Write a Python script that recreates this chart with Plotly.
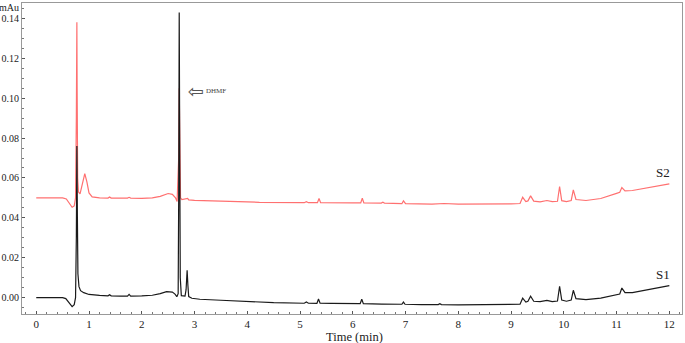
import plotly.graph_objects as go

# S1 (black) chromatogram: time (min), absorbance (mAu)
s1_time = [0.00, 0.50, 0.56, 0.62, 0.68, 0.72, 0.745, 0.76, 0.77, 0.78, 0.79, 0.81, 0.84, 0.90, 1.00,
           1.20, 1.36, 1.39, 1.42, 1.60, 1.73, 1.76, 1.79, 2.00, 2.20, 2.35, 2.47, 2.58, 2.63, 2.665,
           2.69, 2.70, 2.71, 2.72, 2.73, 2.75, 2.82, 2.84, 2.86, 2.875, 2.89, 2.95, 3.10, 3.50, 4.00,
           4.50, 5.08, 5.12, 5.16, 5.32, 5.35, 5.38, 5.60, 6.14, 6.17, 6.20, 6.55, 6.93, 6.96, 6.99,
           7.30, 7.62, 7.65, 7.68, 8.00, 8.60, 9.00, 9.17, 9.22, 9.28, 9.32, 9.37, 9.43, 9.55, 9.68,
           9.78, 9.88, 9.92, 9.96, 10.05, 10.14, 10.18, 10.23, 10.42, 10.70, 11.00, 11.06, 11.10, 11.16,
           11.30, 11.60, 12.00]
s1_value = [0.0000, 0.0000, -0.0005, -0.0025, -0.0045, -0.0035, 0.0000, 0.0300, 0.0760, 0.0400, 0.0120,
            0.0055, 0.0035, 0.0025, 0.0016, 0.0011, 0.0009, 0.0015, 0.0009, 0.0008, 0.0008, 0.0016,
            0.0008, 0.0009, 0.0012, 0.0020, 0.0030, 0.0028, 0.0018, 0.0005, 0.0020, 0.0500, 0.1430,
            0.0700, 0.0100, 0.0010, 0.0008, 0.0040, 0.0137, 0.0060, 0.0005, -0.0003, -0.0008, -0.0013,
            -0.0020, -0.0025, -0.0028, -0.0022, -0.0028, -0.0029, -0.0007, -0.0028, -0.0029, -0.0030,
            -0.0008, -0.0030, -0.0032, -0.0033, -0.0022, -0.0033, -0.0035, -0.0035, -0.0030, -0.0035,
            -0.0036, -0.0036, -0.0034, -0.0033, -0.0003, -0.0022, -0.0018, 0.0007, -0.0018, -0.0020,
            -0.0014, -0.0020, -0.0017, 0.0057, -0.0012, -0.0018, -0.0012, 0.0037, -0.0005, -0.0010,
            -0.0002, 0.0012, 0.0018, 0.0048, 0.0025, 0.0025, 0.0040, 0.0060]

# S2 (red) chromatogram
s2_time = [0.00, 0.50, 0.57, 0.63, 0.68, 0.72, 0.745, 0.76, 0.77, 0.775, 0.785, 0.80, 0.83, 0.87, 0.92,
           0.96, 1.00, 1.06, 1.20, 1.36, 1.39, 1.42, 1.73, 1.76, 1.79, 2.00, 2.20, 2.35, 2.50, 2.58,
           2.64, 2.67, 2.70, 2.71, 2.72, 2.735, 2.76, 2.85, 2.87, 2.89, 3.00, 3.50, 4.23, 5.08, 5.12,
           5.16, 5.33, 5.36, 5.39, 6.00, 6.15, 6.18, 6.21, 6.54, 6.57, 6.60, 6.93, 6.96, 7.00, 7.50,
           7.62, 7.73, 8.00, 8.60, 9.00, 9.17, 9.22, 9.28, 9.32, 9.37, 9.43, 9.55, 9.68, 9.78, 9.88,
           9.92, 9.96, 10.05, 10.14, 10.18, 10.23, 10.42, 10.70, 11.00, 11.06, 11.10, 11.16, 11.30,
           11.60, 12.00]
s2_value = [0.0500, 0.0500, 0.0495, 0.0470, 0.0453, 0.0460, 0.0500, 0.0900, 0.1380, 0.1050, 0.0600,
            0.0530, 0.0520, 0.0560, 0.0622, 0.0580, 0.0525, 0.0505, 0.0500, 0.0499, 0.0505, 0.0499,
            0.0499, 0.0503, 0.0499, 0.0498, 0.0500, 0.0508, 0.0522, 0.0518, 0.0500, 0.0482, 0.0700,
            0.1050, 0.0650, 0.0500, 0.0492, 0.0494, 0.0497, 0.0490, 0.0488, 0.0484, 0.0478, 0.0476,
            0.0481, 0.0476, 0.0476, 0.0497, 0.0476, 0.0475, 0.0475, 0.0498, 0.0475, 0.0474, 0.0478,
            0.0474, 0.0471, 0.0485, 0.0471, 0.0469, 0.0472, 0.0472, 0.0469, 0.0468, 0.0470, 0.0472,
            0.0503, 0.0482, 0.0485, 0.0510, 0.0484, 0.0480, 0.0487, 0.0481, 0.0483, 0.0557, 0.0486,
            0.0481, 0.0487, 0.0540, 0.0492, 0.0487, 0.0497, 0.0523, 0.0528, 0.0552, 0.0535, 0.0537,
            0.0550, 0.0570]

x_ticks = list(range(0, 13))
y_ticks = [0.00, 0.02, 0.04, 0.06, 0.08, 0.10, 0.12, 0.14]
y_tick_labels = ["0.00", "0.02", "0.04", "0.06", "0.08", "0.10", "0.12", "0.14"]

FONT = "Liberation Serif, Times New Roman, serif"

fig = go.Figure()
fig.add_trace(go.Scatter(x=s2_time, y=s2_value, mode="lines", name="S2",
                         line=dict(color="#ff7070", width=1.2), showlegend=False))
fig.add_trace(go.Scatter(x=s1_time, y=s1_value, mode="lines", name="S1",
                         line=dict(color="#1a1a1a", width=1.2), showlegend=False))

fig.add_annotation(x=11.88, y=0.0627, text="S2", showarrow=False,
                   font=dict(family=FONT, size=13, color="#222"))
fig.add_annotation(x=11.88, y=0.0115, text="S1", showarrow=False,
                   font=dict(family=FONT, size=13, color="#222"))
fig.add_annotation(x=2.84, y=0.1035, xanchor="left", yanchor="middle",
                   text="\u21e6", showarrow=False,
                   font=dict(family="DejaVu Sans", size=19, color="#555"))
fig.add_annotation(x=3.18, y=0.1035, xanchor="left", yanchor="middle",
                   text="DHMF", showarrow=False,
                   font=dict(family=FONT, size=7, color="#444"))
fig.add_annotation(xref="paper", yref="paper", x=-0.001, y=1.0, xanchor="right", yanchor="middle",
                   yshift=-4, text="mAu", showarrow=False,
                   font=dict(family=FONT, size=10, color="#222"))
# x-axis title placed just below the tick labels
fig.add_annotation(xref="paper", yref="paper", x=0.504, y=0, xanchor="center", yanchor="top",
                   yshift=-14, text="Time (min)", showarrow=False,
                   font=dict(family=FONT, size=12.5, color="#222"))

axis_common = dict(showgrid=False, zeroline=False, showline=True, linecolor="#999",
                   linewidth=1, mirror=True, ticks="inside", tickcolor="#555",
                   ticklen=3, automargin=False)

fig.update_xaxes(range=[-0.27, 12.24], tickvals=x_ticks, ticktext=[str(v) for v in x_ticks],
                 tickfont=dict(family=FONT, size=11, color="#222"),
                 minor=dict(ticks="inside", ticklen=2, dtick=0.2, tickcolor="#777"),
                 **axis_common)
fig.update_yaxes(range=[-0.0082, 0.1477], tickvals=y_ticks, ticktext=y_tick_labels,
                 tickfont=dict(family=FONT, size=10, color="#222"),
                 minor=dict(ticks="inside", ticklen=2, dtick=0.005, tickcolor="#777"),
                 **axis_common)

fig.update_layout(width=685, height=343, margin=dict(l=22, r=3, t=3, b=29),
                  plot_bgcolor="white", paper_bgcolor="white")

fig.write_html("out.html", config={"displayModeBar": False},
               post_script="document.body.style.margin='0';")
